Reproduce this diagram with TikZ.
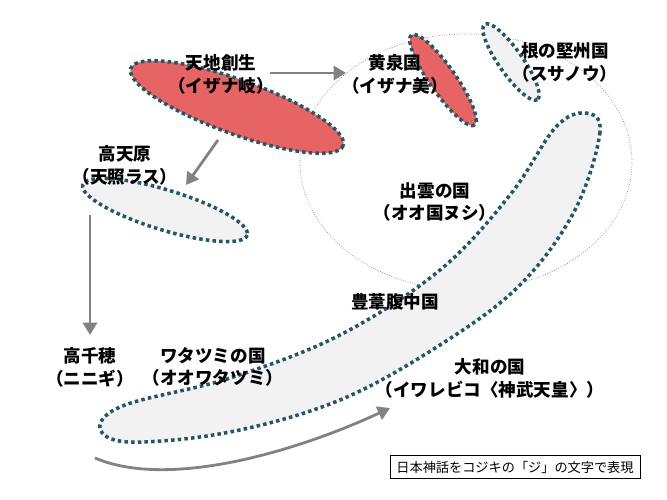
\documentclass[tikz,border=0pt]{standalone}
\usepackage{fontspec}
\newfontfamily\jpfont{Noto Sans CJK JP}[BoldFont={Noto Sans CJK JP Black}]
\usetikzlibrary{arrows.meta}
\definecolor{kjRed}{RGB}{230,100,100}
\definecolor{kjGray}{RGB}{242,242,242}
\definecolor{kjEdge}{RGB}{40,85,100}
\definecolor{kjArrow}{RGB}{130,130,130}
\tikzset{
    base/.style={font=\jpfont\bfseries\fontsize{10}{13}\selectfont, align=center, inner sep=0pt},
    land/.style={draw=kjEdge, line width=2pt, dash pattern=on 2pt off 1.8pt},
    redland/.style={land, fill=kjRed},
    grayland/.style={land, fill=kjGray},
    flow/.style={-{Triangle[length=7pt,width=8pt]}, line width=1.6pt, color=kjArrow}
}
\begin{document}
\begin{tikzpicture}[x=0.02cm, y=-0.02cm]
  \useasboundingbox (0,0) rectangle (667,500);
  % Izumo circle
  \draw[gray, densely dotted, thin] (466,162) ellipse [x radius=166, y radius=128];
  % lands
  \draw[redland] (237,107) ellipse [x radius=113, y radius=27, rotate=-20];
  \draw[redland] (443,80) ellipse [x radius=55, y radius=13, rotate=-55];
  \draw[grayland] (511,62) ellipse [x radius=46, y radius=12, rotate=-55];
  \draw[grayland] (165,210) ellipse [x radius=86, y radius=20, rotate=-17];
  \draw[grayland] plot[smooth cycle, tension=0.6] coordinates {
    (585,113) (600,132) (575,210) (520,285) (440,345) (340,400) (230,432)
    (130,442) (100,428) (125,405) (230,378) (340,335) (440,270) (510,195) (555,128)};
  % texts
  \node[base] (tenchi) at (221,74) {天地創生\\（イザナ岐）};
  \node[base] (yomi) at (395,74) {黄泉国\\（イザナ美）};
  \node[base] (ne) at (565,62) {根の堅州国\\（スサノウ）};
  \node[base] (takama) at (125,165) {高天原\\（天照ラス）};
  \node[base] (izumo) at (435,202) {出雲の国\\（オオ国ヌシ）};
  \node[base] (toyo) at (395,302) {豊葦腹中国};
  \node[base] (takachiho) at (90,367) {高千穂\\（ニニギ）};
  \node[base] (wata) at (213,367) {ワタツミの国\\（オオワタツミ）};
  \node[base] (yamato) at (490,378) {大和の国\\（イワレビコ〈神武天皇〉）};
  \node[draw, thin, font=\jpfont\fontsize{7.5}{8}\selectfont, inner sep=3pt, minimum width=250*0.02cm] (note) at (515,467) {日本神話をコジキの「ジ」の文字で表現};
  % flows
  \coordinate (a1) at (270,73);
  \coordinate (b1) at (346,73);
  \coordinate (a2) at (218,140);
  \coordinate (b2) at (186,185);
  \coordinate (a3) at (90,215);
  \coordinate (b3) at (90,335);
  \coordinate (a4) at (95,458);
  \coordinate (b4) at (390,408);
  \draw[flow] (a1) -- (b1);
  \draw[flow] (a2) -- (b2);
  \draw[flow] (a3) -- (b3);
  \draw[flow] (a4) .. controls (170,490) and (300,450) .. (b4);
\end{tikzpicture}
\end{document}
